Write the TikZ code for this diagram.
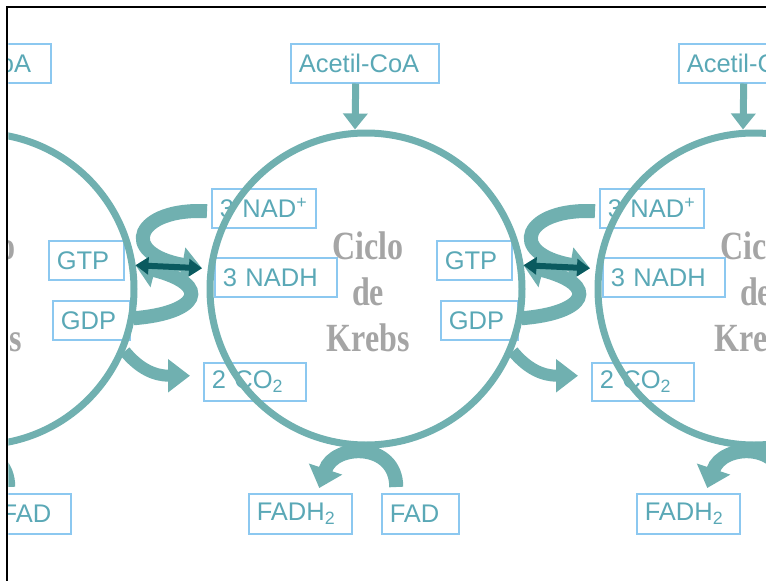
\documentclass[tikz,border=0pt]{standalone}
\usepackage{fontspec}
\usetikzlibrary{arrows.meta}
\newfontfamily\labelfont{Liberation Sans}
\newfontfamily\titlefont{Liberation Serif}
\definecolor{ringteal}{RGB}{112,176,176}
\definecolor{darkteal}{RGB}{10,90,95}
\definecolor{labeltext}{RGB}{90,168,182}
\definecolor{boxblue}{RGB}{140,200,240}
\definecolor{titlegray}{RGB}{165,165,165}

\tikzset{
  lbl/.style={draw=boxblue, line width=1.5pt, anchor=north west, inner xsep=8pt,
    inner ysep=0pt, minimum height=39pt, align=left, text=labeltext,
    font=\labelfont\fontsize{25.5}{29}\selectfont},
  krebsring/.style={circle, draw=ringteal, line width=7pt, minimum size=312pt, inner sep=0pt},
  cyclename/.style={align=center, text=titlegray, xscale=0.8,
    font=\titlefont\bfseries\fontsize{40}{46}\selectfont},
  band/.style={draw=ringteal, line width=14pt, -{Triangle[length=20pt,width=34pt]}},
  feed/.style={draw=ringteal, line width=7pt, -{Triangle[length=16pt,width=24pt]}},
  co2arrow/.style={draw=ringteal, line width=12pt, -{Triangle[length=22pt,width=32pt]}},
  exch/.style={draw=darkteal, line width=6pt,
    {Triangle[length=13pt,width=17pt]}-{Triangle[length=13pt,width=17pt]}}
}

\begin{document}
\begin{tikzpicture}[x=1pt,y=-1pt]
  \useasboundingbox (0,0) rectangle (766,581);

  \begin{scope}
    \clip (8.25,8.25) rectangle (766,581);

    \foreach \dx/\k in {-388/l, 0/c, 388/r} {
      \begin{scope}[xshift=\dx pt]
        \node[lbl, text width=132pt] (acetil-\k) at (290,43)  {Acetil-CoA};
        \node[lbl, text width=88pt]  (nadp-\k)   at (211,188) {3 NAD\textsuperscript{+}};
        \node[lbl, text width=106pt] (nadh-\k)   at (214,257) {3 NADH};
        \node[lbl, text width=59pt]  (gtp-\k)    at (436,240) {GTP};
        \node[lbl, text width=61pt]  (gdp-\k)    at (440,300) {GDP};
        \node[lbl, text width=86pt, minimum height=38pt] (co2-\k) at (203,362) {2 CO\textsubscript{2}};
        \node[lbl, text width=87pt, minimum height=40pt] (fadh-\k) at (248,493) {FADH\textsubscript{2}};
        \node[lbl, text width=61pt, minimum height=40pt] (fad-\k)  at (381,493) {FAD};

        \node[krebsring] (ring-\k) at (366,289) {};
        \node[cyclename] (name-\k) at (368,292) {Ciclo\\de\\Krebs};
      \end{scope}
    }

    \foreach \k in {l, c, r} {
      \draw[feed] ([xshift=-9pt]acetil-\k.south) -- ([xshift=-11pt]ring-\k.north);
      \draw[band] ([shift={(-4,3)}]nadp-\k.west)
        .. controls +(-70,-4) and +(-85,-15) .. ([shift={(-12,-9)}]nadh-\k.west);
      \draw[band] ([shift={(3,-2)}]gdp-\k.east)
        .. controls +(65,-5) and +(78,20) .. ([shift={(11,5)}]gtp-\k.east);
      \draw[band] ([shift={(-24,-6)}]fad-\k.north)
        .. controls +(0,-45) and +(15,-45) .. ([shift={(19,-5)}]fadh-\k.north);
    }

    \foreach \k/\p in {c/l, r/c} {
      \draw[co2arrow] (ring-\p.-23)
        .. controls +(15,18) and +(-35,0) .. ([shift={(-13,-6)}]co2-\k.west);
      \draw[exch] ([shift={(11,5)}]gtp-\p.east) -- ([shift={(-12,-9)}]nadh-\k.west);
    }
  \end{scope}

  \draw[line width=2.5pt] (7,581) -- (7,7) -- (766,7);
\end{tikzpicture}
\end{document}
